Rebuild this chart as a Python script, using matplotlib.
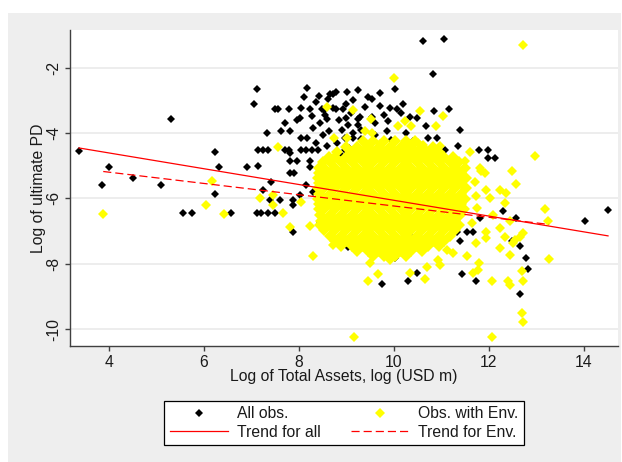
import matplotlib.pyplot as plt
from matplotlib.patches import Rectangle
from matplotlib.lines import Line2D

plt.rcParams['font.family'] = ['Liberation Sans', 'DejaVu Sans']
plt.rcParams['axes.unicode_minus'] = False

# All observations (black diamonds)
all_x = [3.37, 4.0, 3.85, 4.51, 5.09, 5.3, 6.24, 6.32, 6.24, 6.9, 5.56, 5.74, 6.58,
         7.11, 7.05, 7.49, 7.56, 7.80, 8.04, 8.02, 8.23, 8.27, 8.48, 8.59, 8.62, 8.18, 8.43,
         8.65, 8.72, 8.79, 9.01, 9.25, 9.0, 8.79, 8.93, 9.0, 9.25, 9.04, 9.55, 9.70, 9.70,
         10.03, 10.06, 9.88, 8.53, 8.72, 9.28, 9.53, 9.25, 9.92, 8.45,
         8.1, 8.35, 8.55, 8.85, 9.1, 9.4, 9.6, 9.8, 10.2, 8.3, 8.5, 8.8, 9.05, 9.3, 9.6,
         9.85, 10.25, 10.4, 8.6, 8.35, 7.95, 7.7, 9.45, 9.15, 10.35, 8.9, 9.65, 10.1,
         7.32, 7.62, 7.82, 8.04, 8.17, 8.63, 9.14, 9.95, 8.97, 9.14, 9.3,
         7.14, 7.24, 7.35, 7.7, 7.8, 8.05, 8.16, 8.28, 8.4, 8.97, 9.18,
         7.81, 7.81, 7.97, 8.23, 8.23, 7.13, 7.81, 7.9, 8.44, 7.42, 7.25, 8.16, 8.3, 8.02,
         7.39, 7.6, 7.88, 7.88, 7.11, 7.21, 7.35, 7.49, 7.88, 8.44,
         10.62, 11.05, 10.82, 10.16, 10.85, 11.16, 10.48, 10.67, 11.4, 10.72, 10.9, 11.35,
         11.07, 11.8, 11.98, 12.14, 11.98,
         12.3, 11.81, 12.58, 11.32, 11.53, 11.67, 10.41, 11.39, 14.02, 14.51, 9.04, 9.74,
         10.02, 10.3, 10.49, 11.44, 11.72, 12.65, 12.83, 12.78, 12.65, 12.49,
         8.9, 9.77, 10.5, 9.4, 10.9, 11.2, 8.7, 10.1]
all_y = [-4.54, -5.05, -5.6, -5.38, -5.6, -3.58, -4.57, -5.05, -5.86, -5.05, -6.45, -6.45, -6.45,
         -2.65, -3.12, -3.27, -3.27, -3.27, -3.24, -3.55, -3.27, -3.48, -3.27, -3.58, -2.97, -2.61, -2.87,
         -2.82, -2.82, -2.76, -2.76, -2.68, -3.11, -3.27, -3.27, -3.53, -3.58, -3.77, -2.97, -2.78, -3.19,
         -2.65, -3.27, -3.63, -3.3, -3.24, -3.5, -3.5, -3.76, -3.24, -3.7,
         -2.9, -3.05, -3.45, -3.6, -3.4, -3.2, -3.7, -3.45, -3.1, -3.85, -4.05, -4.3, -4.45, -4.2, -4.05,
         -3.95, -4.0, -4.25, -4.4, -4.3, -3.6, -3.7, -2.9, -3.0, -3.5, -3.9, -4.45, -4.5,
         -4.01, -3.93, -3.93, -4.16, -4.16, -3.93, -4.01, -4.21, -4.16, -4.16, -3.9,
         -4.52, -4.52, -4.52, -4.52, -4.52, -4.52, -4.52, -4.52, -4.52, -4.52, -4.52,
         -4.62, -4.87, -4.87, -4.87, -5.03, -5.0, -5.23, -5.23, -5.23, -5.49, -5.74, -5.59, -5.8, -5.89,
         -6.05, -6.05, -6.05, -6.2, -6.45, -6.45, -6.45, -6.45, -7.02, -6.76,
         -1.2, -1.13, -2.2, -3.39, -3.34, -3.27, -3.55, -3.8, -3.9, -4.16, -4.16, -4.4,
         -4.52, -4.52, -4.52, -4.77, -4.77,
         -6.4, -6.61, -6.61, -7.02, -7.02, -7.02, -7.22, -7.32, -6.71, -6.35, -7.49, -8.62,
         -7.84, -8.54, -8.29, -8.31, -8.54, -8.93, -8.17, -7.83, -7.45, -7.32,
         -4.7, -5.23, -5.9, -6.6, -6.2, -5.6, -6.9, -7.3]

# Observations with Env. (yellow diamonds), scattered ones
env_x = [3.88, 6.04, 6.42, 6.17, 7.56, 7.18, 7.46, 7.46, 7.67, 8.05, 7.81, 8.23, 8.44, 8.3,
         8.72, 8.76, 9.16, 12.07, 9.46, 9.67, 9.5, 9.92, 10.34, 10.65, 10.69, 10.93, 11.11,
         10.97, 11.78, 11.67, 11.8, 11.53, 11.25, 11.74, 11.95, 12.06, 12.41, 12.44, 12.69,
         12.71, 12.69, 12.72, 13.27, 13.18, 13.25, 12.97, 12.71, 10.0,
         8.59, 9.13, 9.51, 9.39, 9.53, 8.74, 9.02, 9.39, 9.70, 10.55, 11.04, 10.23, 10.09,
         10.37, 10.88, 10.51, 10.62, 10.98,
         11.6, 11.49, 11.32, 11.81, 11.92, 12.49, 11.84, 12.23, 12.37, 12.58, 11.95, 11.74,
         12.02, 12.34, 12.09, 12.44, 11.95, 12.23, 12.34, 12.51, 12.23, 12.44, 12.65, 12.71,
         12.55, 11.7, 11.75, 11.65]
env_y = [-6.47, -6.21, -6.47, -5.46, -4.43, -6.0, -5.89, -6.2, -6.45, -6.1, -6.88, -6.86, -6.71, -7.78,
         -7.42, -7.27, -10.23, -10.23, -8.54, -8.31, -7.99, -7.89, -8.29, -8.47, -8.09, -7.89, -7.58,
         -8.03, -8.19, -8.29, -7.99, -7.78, -7.68, -7.38, -7.2, -8.54, -8.54, -8.65, -8.24,
         -8.54, -9.51, -9.8, -7.85, -6.33, -6.71, -4.72, -1.31, -2.32,
         -3.21, -3.29, -3.58, -3.94, -3.99, -4.16, -4.14, -4.34, -4.34, -3.34, -3.48, -3.62, -3.8,
         -3.78, -3.78, -4.31, -4.36, -4.39,
         -4.57, -4.87, -5.08, -5.08, -5.23, -5.18, -5.18, -5.74, -5.84, -5.57, -5.74, -5.94,
         -6.0, -6.15, -6.5, -6.71, -7.02, -6.91, -7.17, -7.38, -7.53, -7.73, -7.17, -7.06,
         -7.27, -5.5, -6.3, -6.75]

# Dense core of Env. observations, read row by row
env_core_y = [-4.26, -4.42, -4.58, -4.74, -4.90, -5.06, -5.22, -5.38, -5.54, -5.70, -5.86, -6.02,
              -6.18, -6.34, -6.50, -6.66, -6.82, -6.98, -7.14, -7.30, -7.46, -7.62, -7.78]
env_core_x = [
    [9.34, 9.57, 9.80, 10.03, 10.26, 10.45],
    [8.99, 9.22, 9.45, 9.68, 9.91, 10.14, 10.37, 10.60, 10.83],
    [8.80, 9.11, 9.34, 9.57, 9.80, 10.03, 10.26, 10.49, 10.72, 10.95],
    [8.64, 8.76, 8.99, 9.22, 9.45, 9.68, 9.91, 10.14, 10.37, 10.60, 10.83, 11.06, 11.25],
    [8.50, 8.65, 8.88, 9.11, 9.34, 9.57, 9.80, 10.03, 10.26, 10.49, 10.72, 10.95, 11.18, 11.38],
    [8.42, 8.53, 8.76, 8.99, 9.22, 9.45, 9.68, 9.91, 10.14, 10.37, 10.60, 10.83, 11.06, 11.29, 11.50],
    [8.42, 8.65, 8.88, 9.11, 9.34, 9.57, 9.80, 10.03, 10.26, 10.49, 10.72, 10.95, 11.18, 11.41],
    [8.40, 8.53, 8.76, 8.99, 9.22, 9.45, 9.68, 9.91, 10.14, 10.37, 10.60, 10.83, 11.06, 11.29, 11.52],
    [8.42, 8.65, 8.88, 9.11, 9.34, 9.57, 9.80, 10.03, 10.26, 10.49, 10.72, 10.95, 11.18, 11.41],
    [8.40, 8.53, 8.76, 8.99, 9.22, 9.45, 9.68, 9.91, 10.14, 10.37, 10.60, 10.83, 11.06, 11.29, 11.52],
    [8.42, 8.65, 8.88, 9.11, 9.34, 9.57, 9.80, 10.03, 10.26, 10.49, 10.72, 10.95, 11.18, 11.41],
    [8.40, 8.53, 8.76, 8.99, 9.22, 9.45, 9.68, 9.91, 10.14, 10.37, 10.60, 10.83, 11.06, 11.29, 11.50],
    [8.42, 8.65, 8.88, 9.11, 9.34, 9.57, 9.80, 10.03, 10.26, 10.49, 10.72, 10.95, 11.18, 11.41],
    [8.42, 8.53, 8.76, 8.99, 9.22, 9.45, 9.68, 9.91, 10.14, 10.37, 10.60, 10.83, 11.06, 11.29, 11.48],
    [8.44, 8.65, 8.88, 9.11, 9.34, 9.57, 9.80, 10.03, 10.26, 10.49, 10.72, 10.95, 11.18, 11.40],
    [8.50, 8.53, 8.76, 8.99, 9.22, 9.45, 9.68, 9.91, 10.14, 10.37, 10.60, 10.83, 11.06, 11.29],
    [8.45, 8.65, 8.88, 9.11, 9.34, 9.57, 9.80, 10.03, 10.26, 10.49, 10.72, 10.95, 11.18, 11.38],
    [8.53, 8.76, 8.99, 9.22, 9.45, 9.68, 9.91, 10.14, 10.37, 10.60, 10.83, 11.06, 11.29],
    [8.65, 8.88, 9.11, 9.34, 9.57, 9.80, 10.03, 10.26, 10.49, 10.72, 10.95, 11.18],
    [8.76, 8.99, 9.22, 9.45, 9.68, 9.91, 10.14, 10.37, 10.60, 10.83, 11.06],
    [8.88, 9.11, 9.34, 9.57, 9.80, 10.03, 10.26, 10.49, 10.72, 10.95],
    [9.22, 9.45, 9.68, 9.91, 10.14, 10.37, 10.60],
    [9.57, 9.80, 10.03, 10.26],
]

# fitted trend lines (end points)
trend_all_x = [3.37, 14.51]
trend_all_y = [-4.46, -7.15]
trend_env_x = [3.88, 13.27]
trend_env_y = [-5.18, -6.80]

xticks = [4, 6, 8, 10, 12, 14]
yticks = [-2, -4, -6, -8, -10]

core_x = [x for row in env_core_x for x in row]
core_y = [y for y, row in zip(env_core_y, env_core_x) for _ in row]

W, H = 622, 462
fig = plt.figure(figsize=(W / 100, H / 100), dpi=100)
fig.patch.set_facecolor('white')
fig.patches.append(Rectangle((8 / W, 0), 613 / W, 1 - 13 / H, transform=fig.transFigure,
                             facecolor='#eeeeee', edgecolor='none', zorder=-5))

ax = fig.add_axes([70 / W, 1 - 346 / H, 548 / W, 316 / H])
ax.set_facecolor('white')

black_ms = 3.7
yellow_ms = 5.3
dash = (0, (6.5, 3.2))
ax.plot(all_x, all_y, 'D', color='black', ms=black_ms, mew=0, zorder=2)
ax.plot(core_x, core_y, 'D', color='#ffff00', ms=6.3, mew=0, zorder=3)
ax.plot(env_x, env_y, 'D', color='#ffff00', ms=yellow_ms, mew=0, zorder=3)
ax.plot(trend_all_x, trend_all_y, color='red', lw=0.9, zorder=4)
ax.plot(trend_env_x, trend_env_y, color='red', lw=0.9, ls=dash, zorder=4)

ax.set_xlim(3.18, 14.72)
ax.set_ylim(-10.52, -0.85)
ax.set_xticks(xticks)
ax.set_yticks(yticks)
ax.grid(axis='y', color='#e8e8e8', lw=1.1)
ax.set_axisbelow(True)

for s in ['top', 'right']:
    ax.spines[s].set_visible(False)
for s in ['left', 'bottom']:
    ax.spines[s].set_color('#404040')
    ax.spines[s].set_linewidth(1.0)

fs = 11.3
ax.tick_params(axis='both', colors='#404040', length=3.6, width=1.0, labelsize=fs, labelcolor='#1a1a1a')
ax.tick_params(axis='y', labelrotation=90, pad=3)
ax.tick_params(axis='x', pad=3)
for lab in ax.get_yticklabels():
    lab.set_va('center')

ax.set_xlabel('Log of Total Assets, log (USD m)', fontsize=fs, color='#1a1a1a', labelpad=-1)
ax.set_ylabel('Log of ultimate PD', fontsize=fs, color='#1a1a1a', labelpad=0)

handles = [
    Line2D([], [], marker='D', color='black', ls='none', ms=black_ms, mew=0),
    Line2D([], [], color='red', lw=0.9),
    Line2D([], [], marker='D', color='#ffff00', ls='none', ms=yellow_ms, mew=0),
    Line2D([], [], color='red', lw=0.9, ls=dash),
]
labels = ['All obs.', 'Trend for all', 'Obs. with Env.', 'Trend for Env.']
leg = fig.legend(handles, labels, ncol=2, loc='center', bbox_to_anchor=(344 / W, 1 - 423 / H),
                 fontsize=fs, frameon=True, fancybox=False, framealpha=1, edgecolor='black',
                 handlelength=3.7, handletextpad=0.6, columnspacing=1.9, labelspacing=0.2,
                 borderpad=0.35, numpoints=1)
leg.get_frame().set_linewidth(0.9)
for t in leg.get_texts():
    t.set_color('#1a1a1a')

fig.savefig('out.png', dpi=100)
